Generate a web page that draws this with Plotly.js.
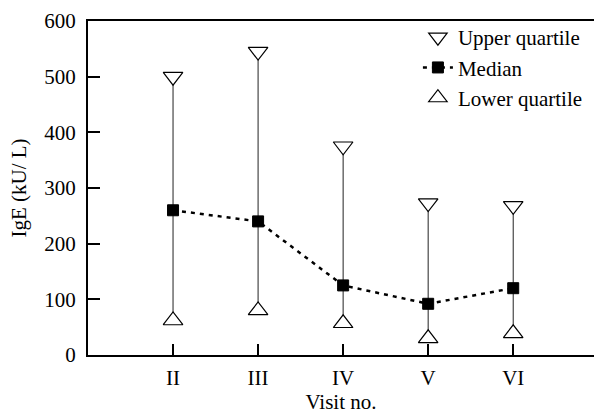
<!DOCTYPE html>
<html>
<head>
<meta charset="utf-8">
<script src="https://cdn.plot.ly/plotly-3.0.1.min.js"></script>
<style>html,body{margin:0;padding:0;background:#fff;}#chart{width:594px;height:415px;}</style>
</head>
<body>
<div id="chart"></div>
<script>
const visits = [2, 3, 4, 5, 6];
const visitLabels = ['II', 'III', 'IV', 'V', 'VI'];
const upperQuartile = [500, 545, 375, 273, 268];
const median = [260, 240, 125, 92, 120];
const lowerQuartile = [62, 80, 57, 30, 39];

const FONT = 'Liberation Serif, Times New Roman, serif';

// whiskers: lower -> upper for each visit
const wx = [], wy = [];
visits.forEach((v, i) => { wx.push(v, v, null); wy.push(lowerQuartile[i], upperQuartile[i], null); });

const traces = [
  {x: wx, y: wy, mode: 'lines', line: {color: '#222', width: 1}, showlegend: false, hoverinfo: 'skip'},
  {x: visits, y: upperQuartile, mode: 'markers', name: 'Upper quartile',
   marker: {symbol: 'triangle-down', size: 17, color: '#fff', line: {color: '#000', width: 1.2}}},
  {x: visits, y: median, mode: 'lines+markers', name: 'Median',
   line: {color: '#000', width: 2.5, dash: '4px,5px'},
   marker: {symbol: 'square', size: 11, color: '#000', line: {color: '#000', width: 1}}},
  {x: visits, y: lowerQuartile, mode: 'markers', name: 'Lower quartile',
   marker: {symbol: 'triangle-up', size: 17, color: '#fff', line: {color: '#000', width: 1.2}}}
];

const layout = {
  width: 594, height: 415,
  margin: {l: 88, r: 0, t: 21, b: 60},
  paper_bgcolor: '#fff', plot_bgcolor: '#fff',
  font: {family: FONT, size: 21, color: '#000'},
  showlegend: true,
  legend: {x: 0.652, y: 1.012, xanchor: 'left', yanchor: 'top', bgcolor: 'rgba(0,0,0,0)',
           font: {family: FONT, size: 21, color: '#000'}, tracegroupgap: 0, itemsizing: 'trace'},
  xaxis: {
    range: [1, 6.95], tickmode: 'array', tickvals: visits, ticktext: visitLabels,
    ticks: 'inside', ticklen: 11, tickwidth: 2, tickcolor: '#000',
    showline: true, linecolor: '#000', linewidth: 2, mirror: true,
    showgrid: false, zeroline: false, ticklabelstandoff: 3,
    tickfont: {family: FONT, size: 21},
    title: {text: 'Visit no.', font: {family: FONT, size: 21}, standoff: 2}
  },
  yaxis: {
    range: [0, 600], dtick: 100, tick0: 0,
    ticks: 'inside', ticklen: 12, tickwidth: 2, tickcolor: '#000',
    showline: true, linecolor: '#000', linewidth: 2, mirror: false,
    showgrid: false, zeroline: false, ticklabelstandoff: 6,
    tickfont: {family: FONT, size: 21},
    title: {text: 'IgE (kU/ L)', font: {family: FONT, size: 21}, standoff: 12}
  }
};

Plotly.newPlot('chart', traces, layout, {displayModeBar: false, staticPlot: true});
</script>
</body>
</html>
